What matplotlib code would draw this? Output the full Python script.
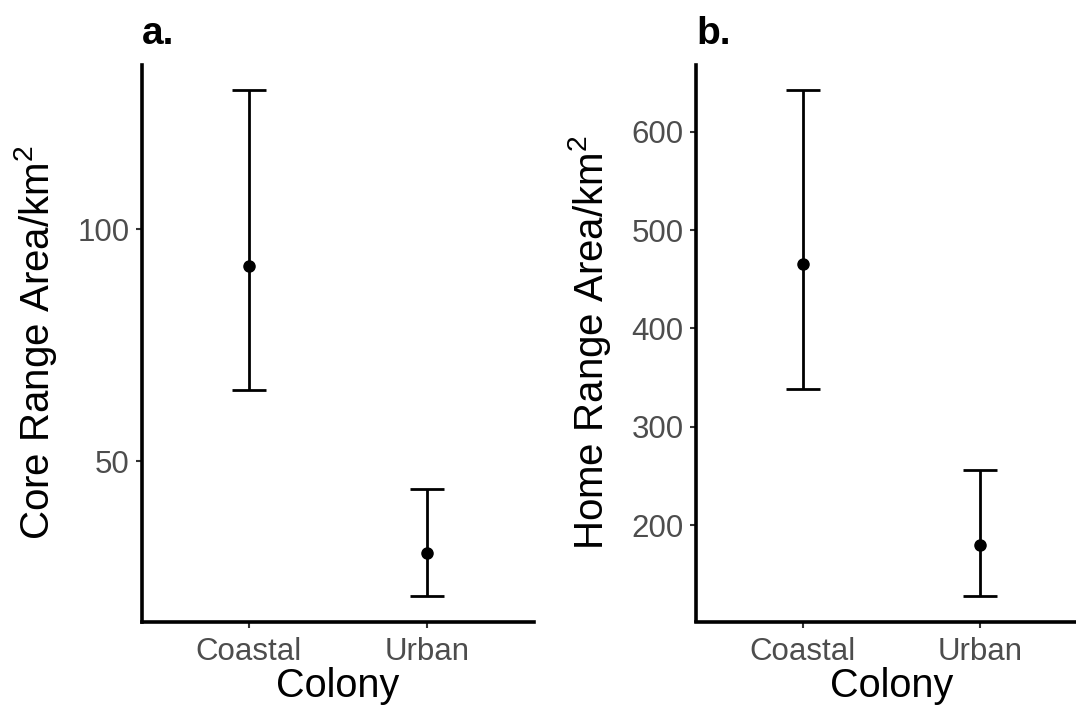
import numpy as np
import matplotlib.pyplot as plt

plt.rcParams['font.family'] = ['Liberation Sans', 'DejaVu Sans']

# values
colonies = ['Coastal', 'Urban']
core_mean = [92.0, 30.2]
core_lower = [65.3, 20.9]
core_upper = [130.0, 44.1]
core_ticks = [50, 100]

home_mean = [465.7, 180.3]
home_lower = [337.9, 127.8]
home_upper = [642.5, 256.0]
home_ticks = [200, 300, 400, 500, 600]

W, H = 1076, 707
fig = plt.figure(figsize=(W / 100, H / 100), dpi=100)


def panel(rect, mean, lower, upper, ticks, ylabel, tag):
    # rect = (left, top, right, bottom) in pixels
    ax = fig.add_axes([rect[0] / W, (H - rect[3]) / H,
                       (rect[2] - rect[0]) / W, (rect[3] - rect[1]) / H])
    x = np.arange(len(colonies))
    mean = np.array(mean)
    err = [mean - np.array(lower), np.array(upper) - mean]
    ax.errorbar(x, mean, yerr=err, fmt='o', color='black', markersize=8,
                elinewidth=2.0, capsize=12.5, capthick=2.0)
    # ggplot-like expansion
    lo, hi = min(lower), max(upper)
    pad = (hi - lo) * 0.05
    ax.set_ylim(lo - pad, hi + pad)
    ax.set_xlim(-0.6, len(colonies) - 0.4)
    ax.set_xticks(x)
    ax.set_xticklabels(colonies)
    ax.set_yticks(ticks)
    for s in ['top', 'right']:
        ax.spines[s].set_visible(False)
    for s in ['left', 'bottom']:
        ax.spines[s].set_linewidth(2.6)
        ax.spines[s].set_color('black')
    ax.tick_params(labelsize=22.5, colors='#333333', length=4, width=1.5, pad=5)
    ax.tick_params(axis='x', pad=7)
    ax.tick_params(labelcolor='#4D4D4D')
    ax.set_xlabel('Colony', fontsize=28.5, labelpad=0)
    ax.set_ylabel(ylabel, fontsize=29, labelpad=13)
    ax.set_title(tag, loc='left', fontsize=28, fontweight='bold', pad=15)
    return ax


panel((142, 64.5, 534, 621.5), core_mean, core_lower, core_upper, core_ticks,
      'Core Range Area/km$\\mathregular{^2}$', 'a.')
panel((696, 64.5, 1087, 621.5), home_mean, home_lower, home_upper, home_ticks,
      'Home Range Area/km$\\mathregular{^2}$', 'b.')

plt.savefig('out.png', dpi=100)
